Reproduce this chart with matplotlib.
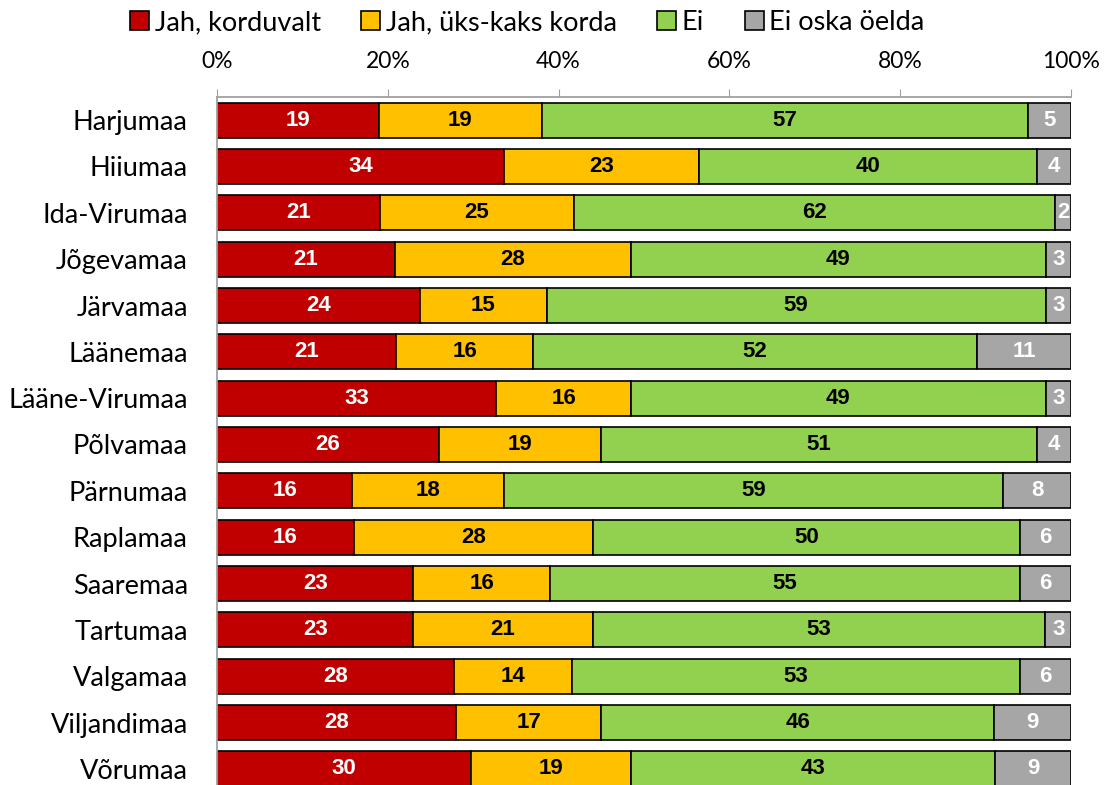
import numpy as np
import matplotlib.pyplot as plt

regions = ["Harjumaa", "Hiiumaa", "Ida-Virumaa", "Jõgevamaa", "Järvamaa", "Läänemaa",
           "Lääne-Virumaa", "Põlvamaa", "Pärnumaa", "Raplamaa", "Saaremaa", "Tartumaa",
           "Valgamaa", "Viljandimaa", "Võrumaa"]
series = ["Jah, korduvalt", "Jah, üks-kaks korda", "Ei", "Ei oska öelda"]
korduvalt = [19, 34, 21, 21, 24, 21, 33, 26, 16, 16, 23, 23, 28, 28, 30]
yks_kaks = [19, 23, 25, 28, 15, 16, 16, 19, 18, 28, 16, 21, 14, 17, 19]
ei = [57, 40, 62, 49, 59, 52, 49, 51, 59, 50, 55, 53, 53, 46, 43]
ei_oska = [5, 4, 2, 3, 3, 11, 3, 4, 8, 6, 6, 3, 6, 9, 9]

colors = ["#C00000", "#FFC000", "#92D050", "#A6A6A6"]
text_colors = ["white", "black", "black", "white"]

vals = np.array([korduvalt, yks_kaks, ei, ei_oska], dtype=float)
shares = vals / vals.sum(axis=0) * 100  # chart is 100% stacked

fig = plt.figure(figsize=(11.1, 7.85), dpi=100)
ax = fig.add_axes([217 / 1110, -7 / 785, 854 / 1110, 695 / 785])

y = np.arange(len(regions))
left = np.zeros(len(regions))
for i, name in enumerate(series):
    bars = ax.barh(y, shares[i], left=left, height=0.75, color=colors[i],
                   edgecolor="black", linewidth=1.2, label=name)
    for j, b in enumerate(bars):
        ax.text(left[j] + shares[i][j] / 2, y[j], f"{int(vals[i][j])}",
                ha="center", va="center", color=text_colors[i],
                fontsize=16, fontweight="bold", family="Liberation Sans")
    left += shares[i]

ax.set_xlim(0, 100)
ax.set_ylim(len(regions) - 0.5, -0.5)
ax.set_yticks(y)
ax.set_yticklabels(regions, fontsize=19.5, family="Lato")
ax.set_xticks(np.arange(0, 101, 20))
ax.set_xticklabels([f"{t}%" for t in range(0, 101, 20)], fontsize=16.5, family="Lato")
ax.xaxis.tick_top()
ax.tick_params(axis="x", length=6, color="#A0A0A0", pad=12)
ax.tick_params(axis="y", length=0, pad=21)
for s in ["right", "bottom"]:
    ax.spines[s].set_visible(False)
for s in ["top", "left"]:
    ax.spines[s].set_color("#A0A0A0")
    ax.spines[s].set_linewidth(1.3)

leg = fig.legend(loc="center", bbox_to_anchor=(0.475, 0.971), ncol=4, frameon=False,
                 prop={"family": "Lato", "size": 19.5}, handlelength=0.7, handleheight=0.7,
                 handletextpad=0.2, columnspacing=1.5)

fig.savefig("out.png", dpi=100)
